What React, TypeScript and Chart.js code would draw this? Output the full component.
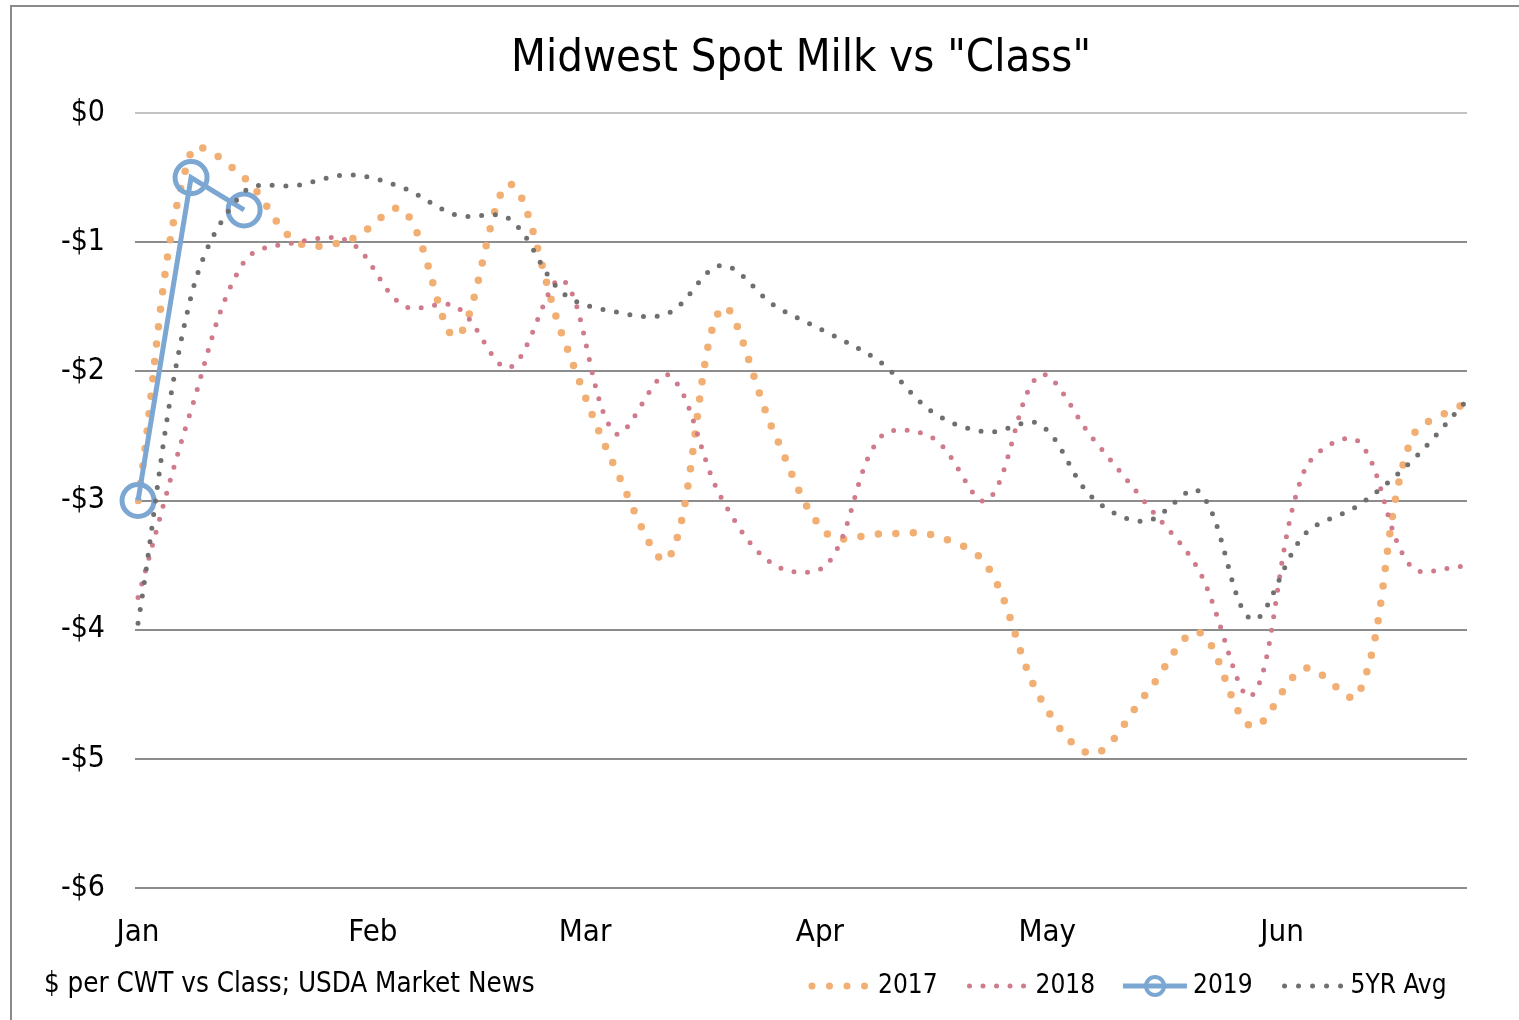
import React, { useEffect, useRef } from 'react';
import { Chart, registerables } from 'chart.js';

Chart.register(...registerables);

const FONT = '"DejaVu Sans Condensed", "DejaVu Sans", sans-serif';

const TITLE = 'Midwest Spot Milk vs "Class"';
const SOURCE = '$ per CWT vs Class; USDA Market News';

// day of year (weekly observations)
const weekDays = [0, 7, 14, 21, 28, 35, 42, 49, 56, 63, 70, 77, 84, 91, 98, 105, 112, 119, 126, 133, 140, 147, 154, 161, 168, 175];

const monthDays = [0, 31, 59, 90, 120, 151];
const monthLabels = ['Jan', 'Feb', 'Mar', 'Apr', 'May', 'Jun'];

const seriesNames = ['2017', '2018', '2019', '5YR Avg'];

const s2017 = [-3.0, -0.3, -0.5, -1.0, -0.98, -0.75, -1.73, -0.55, -1.72, -2.75, -3.45, -1.51, -2.48, -3.26, -3.26, -3.27, -3.5, -4.52, -4.96, -4.5, -4.02, -4.75, -4.3, -4.51, -2.53, -2.25];
const s2018 = [-3.75, -2.3, -1.15, -1.0, -1.0, -1.49, -1.5, -1.97, -1.29, -2.48, -2.03, -2.98, -3.5, -3.49, -2.51, -2.52, -3.0, -2.03, -2.52, -3.02, -3.54, -4.51, -2.76, -2.54, -3.51, -3.51];
const s2019 = [-3.0, -0.5, -0.75];
const s5yr = [-3.95, -1.42, -0.61, -0.56, -0.48, -0.58, -0.79, -0.82, -1.39, -1.54, -1.55, -1.18, -1.49, -1.7, -1.93, -2.32, -2.47, -2.41, -2.98, -3.16, -2.93, -3.92, -3.26, -3.04, -2.7, -2.25];

const C2017 = '#F2AF74';
const C2018 = '#D07B8C';
const C2019 = '#7BA7D2';
const C5YR = '#6F6F6F';

const toXY = (vals: number[]) => vals.map((v, i) => ({ x: weekDays[i], y: v }));

const overlayPlugin = {
  id: 'overlay',
  beforeDraw(chart: any) {
    const ctx = chart.ctx;
    ctx.save();
    ctx.fillStyle = '#ffffff';
    ctx.fillRect(0, 0, chart.width, chart.height);
    ctx.strokeStyle = '#8a8a8a';
    ctx.lineWidth = 2;
    ctx.beginPath();
    ctx.moveTo(11, chart.height);
    ctx.lineTo(11, 6);
    ctx.lineTo(chart.width, 6);
    ctx.stroke();
    ctx.restore();
  },
  afterDraw(chart: any) {
    const ctx = chart.ctx;
    const ca = chart.chartArea;
    ctx.save();
    ctx.fillStyle = '#000';
    ctx.textBaseline = 'middle';
    ctx.textAlign = 'center';
    ctx.font = `45px ${FONT}`;
    ctx.fillText(TITLE, (ca.left + ca.right) / 2, 59);

    ctx.font = `27.5px ${FONT}`;
    ctx.textAlign = 'left';
    ctx.fillText(SOURCE, 44, 985);

    // legend
    ctx.font = `26px ${FONT}`;
    const ly = 986;
    let x = 808;
    const styles = [
      { color: C2017, width: 7, dash: [0, 17.5], kind: 'dot' },
      { color: C2018, width: 5, dash: [0, 13.5], kind: 'dot' },
      { color: C2019, width: 5, dash: [], kind: 'marker' },
      { color: C5YR, width: 5, dash: [0, 14], kind: 'dot' },
    ];
    seriesNames.forEach((name, i) => {
      const st = styles[i];
      ctx.save();
      ctx.strokeStyle = st.color;
      ctx.lineWidth = st.width;
      ctx.lineCap = st.kind === 'dot' ? 'round' : 'butt';
      ctx.setLineDash(st.dash);
      ctx.beginPath();
      if (st.kind === 'dot') {
        ctx.moveTo(x + 4, ly);
        ctx.lineTo(x + 62, ly);
      } else {
        ctx.moveTo(x, ly);
        ctx.lineTo(x + 64, ly);
      }
      ctx.stroke();
      if (st.kind === 'marker') {
        ctx.setLineDash([]);
        ctx.lineWidth = 4;
        ctx.beginPath();
        ctx.arc(x + 32, ly, 9, 0, Math.PI * 2);
        ctx.stroke();
        ctx.beginPath();
        ctx.moveTo(x + 24, ly);
        ctx.lineTo(x + 40, ly);
        ctx.lineWidth = 3;
        ctx.stroke();
      }
      ctx.restore();
      const tx = x + 70;
      ctx.fillStyle = '#000';
      ctx.fillText(name, tx, ly);
      x = tx + ctx.measureText(name).width + 28;
    });
    ctx.restore();
  },
};

export default function App() {
  const canvasRef = useRef<HTMLCanvasElement | null>(null);

  useEffect(() => {
    if (!canvasRef.current) return;
    const chart = new Chart(canvasRef.current, {
      type: 'line',
      data: {
        datasets: [
          {
            label: seriesNames[0],
            data: toXY(s2017),
            borderColor: C2017,
            borderWidth: 7.5,
            borderDash: [0, 17.5],
            borderCapStyle: 'round',
            pointRadius: 0,
            tension: 0.35,
            fill: false,
            order: 4,
          },
          {
            label: seriesNames[1],
            data: toXY(s2018),
            borderColor: C2018,
            borderWidth: 5,
            borderDash: [0, 13.5],
            borderCapStyle: 'round',
            pointRadius: 0,
            tension: 0.35,
            fill: false,
            order: 3,
          },
          {
            label: seriesNames[2],
            data: toXY(s2019),
            borderColor: C2019,
            borderWidth: 5,
            pointRadius: 16,
            pointBorderWidth: 5,
            pointBorderColor: C2019,
            pointBackgroundColor: 'rgba(255,255,255,0)',
            tension: 0,
            fill: false,
            clip: false,
            order: 2,
          },
          {
            label: seriesNames[3],
            data: toXY(s5yr),
            borderColor: C5YR,
            borderWidth: 5,
            borderDash: [0, 13.7],
            borderCapStyle: 'round',
            pointRadius: 0,
            tension: 0.35,
            fill: false,
            order: 1,
          },
        ],
      },
      options: {
        animation: false,
        responsive: false,
        maintainAspectRatio: false,
        layout: { padding: { left: 0, right: 52, top: 113, bottom: 0 } },
        plugins: {
          legend: { display: false },
          title: { display: false },
          tooltip: { enabled: false },
        },
        scales: {
          x: {
            type: 'linear',
            min: -0.4,
            max: 175.4,
            grid: { display: false, drawTicks: false },
            border: { display: false },
            afterBuildTicks: (scale: any) => {
              scale.ticks = monthDays.map((v) => ({ value: v }));
            },
            afterFit: (scale: any) => {
              scale.height = 132;
            },
            ticks: {
              autoSkip: false,
              maxRotation: 0,
              padding: 26,
              color: '#000',
              font: { family: FONT, size: 31 },
              callback: (v: any) => {
                const idx = monthDays.indexOf(Number(v));
                return idx >= 0 ? monthLabels[idx] : '';
              },
            },
          },
          y: {
            min: -6,
            max: 0,
            grid: {
              drawTicks: false,
              lineWidth: 2,
              color: (c: any) => (c.tick && c.tick.value === 0 ? '#c4c4c4' : '#8c8c8c'),
            },
            border: { display: false },
            afterFit: (scale: any) => {
              scale.width = 135;
            },
            ticks: {
              stepSize: 1,
              padding: 30,
              color: '#000',
              font: { family: FONT, size: 30 },
              callback: (v: any) => (Number(v) < 0 ? '-$' + Math.abs(Number(v)) : '$' + v),
            },
          },
        },
      },
      plugins: [overlayPlugin],
    });
    return () => chart.destroy();
  }, []);

  return (
    <div style={{ position: 'absolute', left: 0, top: 0, width: 1519, height: 1020, background: '#fff' }}>
      <canvas ref={canvasRef} width={1519} height={1020} style={{ width: 1519, height: 1020, display: 'block' }} />
    </div>
  );
}
